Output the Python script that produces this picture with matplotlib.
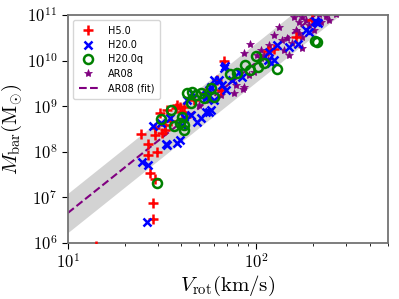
import numpy as np
import matplotlib
matplotlib.use('Agg')
import matplotlib.pyplot as plt
from matplotlib.ticker import FuncFormatter, NullLocator

plt.rcParams['mathtext.fontset'] = 'cm'

# H5.0 (red +)
v_h5 = [14.1, 28.2, 28.2, 29.2, 27.2, 26.5, 29.9, 26.5, 24.6, 29.2, 31.8, 33.0,
        29.2, 33.0, 35.5, 30.7, 33.8, 37.7, 39.2, 40.6, 42.6, 38.2, 41.6, 47.0,
        53.0, 62.2, 65.3, 67.7, 124, 163, 198, 116]
m_h5 = [0.85e6, 3.4e6, 7.5e6, 2.5e7, 3.4e7, 8.5e7, 9.9e7, 1.5e8, 2.5e8, 2.3e8, 2.6e8, 3.0e8,
        3.3e8, 3.9e8, 4.7e8, 7.1e8, 8.3e8, 9.1e8, 9.6e8, 7.5e8, 5.8e8, 1.06e9, 9.6e8, 1.37e9,
        1.95e9, 3.8e9, 2.26e9, 9.8e9, 1.8e10, 3.3e10, 7.8e10, 1.6e10]

# H20.0 (blue x)
v_h20 = [26.2, 24.9, 26.5, 28.2, 33.4, 33.8, 38.2, 39.2, 34.7, 40.6, 31.4, 45.3,
         48.8, 56.4, 56.4, 59.9, 59.9, 57.8, 54.3, 51.2, 43.1, 41.6, 45.8, 67.7,
         68.5, 57.8, 63.7, 66.1, 54.3, 69.3, 74.6, 84.3, 81.3, 117, 124, 129,
         150, 167, 191, 205, 212, 208, 184, 54.3, 57.8, 116, 120]
m_h20 = [2.9e6, 6.0e7, 5.1e7, 3.7e8, 1.5e8, 1.4e8, 1.6e8, 1.8e8, 5.5e8, 3.9e8, 4.3e8, 6.4e8,
         4.5e8, 7.5e8, 2.26e9, 1.37e9, 3.8e9, 2.5e9, 1.51e9, 5.5e8, 1.37e9, 5.8e8, 1.95e9, 6.9e9,
         7.6e9, 2.64e9, 3.8e9, 2.9e9, 1.76e9, 2.26e9, 3.8e9, 4.4e9, 5.6e9, 1.55e10, 1.03e10, 2.2e10,
         2.0e10, 2.3e10, 4.2e10, 7.3e10, 6.8e10, 7.0e10, 4.7e10, 7.5e8, 8.3e8, 1.03e10, 8.9e9]

# H20.0q (green o)
v_h20q = [29.6, 31.4, 35.1, 36.4, 40.6, 43.1, 45.8, 48.2, 51.2, 45.3, 41.6, 41.6,
          57.8, 59.9, 53.0, 72.8, 79.3, 87.5, 92.9, 100, 102.5, 110, 129, 206, 210, 39.2]
m_h20q = [2.1e7, 5.2e8, 8.3e8, 3.7e8, 5.8e8, 1.95e9, 2.05e9, 1.76e9, 1.95e9, 1.17e9, 3.9e8, 3.0e8,
          2.5e9, 1.59e9, 1.51e9, 5.1e9, 5.3e9, 8.0e9, 6.2e9, 1.26e10, 7.2e9, 8.9e9, 6.5e9, 2.7e10, 2.6e10, 4.3e8]

# AR08 observations (purple stars)
v_ar08 = [49.9, 56.4, 65.3, 76.5, 78.4, 85.3, 74.6, 86.4, 92.9, 86.4, 97.6, 106,
          110, 106, 116, 132, 137, 146, 155, 163, 169, 175, 175, 159, 175, 184,
          215, 235, 265, 191, 203, 221, 150, 117, 101, 91.8, 124, 141, 169, 243]
m_ar08 = [1.06e9, 1.37e9, 1.76e9, 1.95e9, 2.9e9, 2.38e9, 3.8e9, 2.64e9, 2.3e10, 1.47e10, 5.6e9, 1.71e10,
          1.33e10, 1.14e10, 1.03e10, 5.5e10, 2.8e10, 3.1e10, 2.4e10, 4.7e10, 4.0e10, 3.3e10, 1.89e10, 9.0e10, 9.0e10, 7.8e10,
          1.05e11, 9.5e10, 1.05e11, 6.0e10, 4.7e10, 7.0e10, 1.33e10, 2.2e10, 1.33e10, 4.8e9, 3.6e10, 1.71e10, 7.0e10, 7.8e10]

# AR08 fit: log M = a + b (log V - 1), scatter in dex
fit_a = 6.66
fit_b = 3.3
fit_sig = 0.43

fig = plt.figure(figsize=(3.99, 2.99), dpi=100)
ax = fig.add_axes([0.170, 0.187, 0.802, 0.763])

vv = np.logspace(1, np.log10(500), 200)
lm = fit_a + fit_b * (np.log10(vv) - 1)
ax.fill_between(vv, 10**(lm - fit_sig), 10**(lm + fit_sig), color='lightgray', lw=0, zorder=1)

ax.plot(v_ar08, m_ar08, ls='none', marker='*', ms=6, color='purple', mew=0.5, label='AR08', zorder=2)
ax.plot(v_h5, m_h5, ls='none', marker='+', ms=7, mew=1.8, color='red', label='H5.0', zorder=3)
ax.plot(v_h20, m_h20, ls='none', marker='x', ms=6, mew=1.8, color='blue', label='H20.0', zorder=3)
ax.plot(v_h20q, m_h20q, ls='none', marker='o', ms=6.5, mew=1.8, mfc='none', mec='green', label='H20.0q', zorder=3)
ax.plot(vv, 10**lm, ls='--', color='purple', lw=1.5, label='AR08 (fit)', zorder=2)

ax.set_xscale('log')
ax.set_yscale('log')
ax.set_xlim(10, 500)
ax.set_ylim(1e6, 1e11)

fmt = FuncFormatter(lambda v, p: r'$10^{%d}$' % round(np.log10(v)))
ax.xaxis.set_major_formatter(fmt)
ax.yaxis.set_major_formatter(fmt)
ax.yaxis.set_minor_locator(NullLocator())
ax.tick_params(which='major', direction='out', length=4, labelsize=12)
ax.tick_params(which='minor', direction='out', length=2)

for s in ax.spines.values():
    s.set_color('0.45')
    s.set_linewidth(1.3)

ax.set_xlabel(r'$V_{\mathrm{rot}}(\mathrm{km/s})$', fontsize=15, labelpad=1)
ax.set_ylabel(r'$M_{\mathrm{bar}}(\mathrm{M_{\odot}})$', fontsize=15, labelpad=2)

handles, labels = ax.get_legend_handles_labels()
order = [1, 2, 3, 0, 4]
ax.legend([handles[i] for i in order], [labels[i] for i in order], loc='upper left',
          fontsize=7, handlelength=2, labelspacing=0.45, borderpad=0.6, handletextpad=1.0)

fig.savefig('out.png', dpi=100)
